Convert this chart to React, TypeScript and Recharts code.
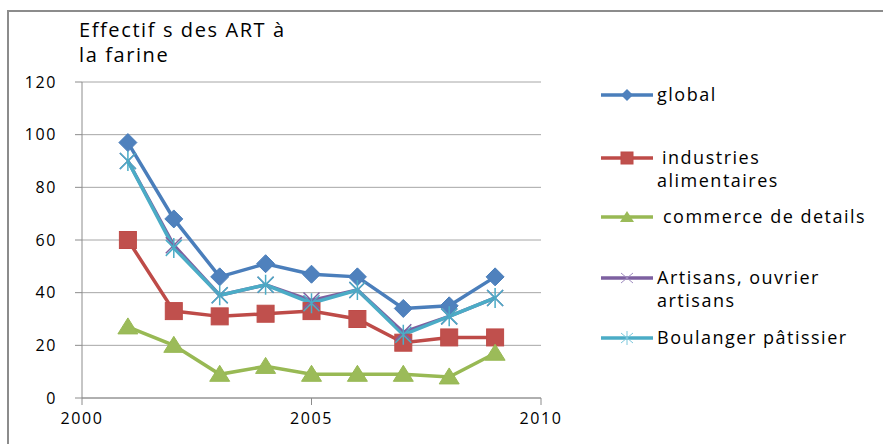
import { LineChart, Line, XAxis, YAxis, CartesianGrid, Legend } from "recharts";

const years = [2001, 2002, 2003, 2004, 2005, 2006, 2007, 2008, 2009];
const globalVals = [97, 68, 46, 51, 47, 46, 34, 35, 46];
const industriesVals = [60, 33, 31, 32, 33, 30, 21, 23, 23];
const commerceVals = [27, 20, 9, 12, 9, 9, 9, 8, 17];
const artisansVals = [90, 58, 39, 43, 37, 41, 25, 31, 38];
const boulangerVals = [90, 57, 39, 43, 36, 41, 24, 31, 38];
const xTicks = [2000, 2005, 2010];
const yTicks = [0, 20, 40, 60, 80, 100, 120];

const data = years.map((y, i) => ({
  year: y,
  global: globalVals[i],
  industries: industriesVals[i],
  commerce: commerceVals[i],
  artisans: artisansVals[i],
  boulanger: boulangerVals[i],
}));

const FONT = "'Open Sans', sans-serif";

const COLORS = {
  global: "#4a7ebb",
  industries: "#be4b48",
  commerce: "#98b954",
  artisans: "#7d60a0",
  boulanger: "#4bacc6",
};

const PLOT_LEFT = 82;
const PLOT_BOTTOM = 398;

// axis ticks drawn by hand so the label gap matches Excel
function YTick(p: any) {
  const { y, payload } = p;
  return (
    <g>
      <line x1={PLOT_LEFT - 7} y1={y} x2={PLOT_LEFT} y2={y} stroke="#8c8c8c" />
      <text x={PLOT_LEFT - 25} y={y} dy="0.35em" textAnchor="end" fontSize={16} letterSpacing={1.6} fill="#000" fontFamily={FONT}>
        {payload.value}
      </text>
    </g>
  );
}

function XTick(p: any) {
  const { x, payload } = p;
  return (
    <g>
      <line x1={x} y1={PLOT_BOTTOM} x2={x} y2={PLOT_BOTTOM + 7} stroke="#8c8c8c" />
      <text x={x} y={PLOT_BOTTOM + 20} dy="0.35em" textAnchor="middle" fontSize={16} letterSpacing={1.6} fill="#000" fontFamily={FONT}>
        {payload.value}
      </text>
    </g>
  );
}

// marker shapes, Excel style
function Diamond(p: any) {
  const { cx, cy } = p;
  if (cx == null) return null;
  const r = 9;
  return <path key={p.key} d={`M${cx},${cy - r}L${cx + r},${cy}L${cx},${cy + r}L${cx - r},${cy}Z`} fill="#4f81bd" stroke="#4a7ebb" strokeWidth={1} />;
}

function Square(p: any) {
  const { cx, cy } = p;
  if (cx == null) return null;
  const s = 8.5;
  return <rect key={p.key} x={cx - s} y={cy - s} width={s * 2} height={s * 2} fill="#c0504d" stroke="#be4b48" strokeWidth={1} />;
}

function Triangle(p: any) {
  const { cx, cy } = p;
  if (cx == null) return null;
  return <path key={p.key} d={`M${cx},${cy - 9}L${cx + 10},${cy + 7}L${cx - 10},${cy + 7}Z`} fill="#9bbb59" stroke="#98b954" strokeWidth={1} />;
}

function Cross(p: any) {
  const { cx, cy } = p;
  if (cx == null) return null;
  const r = 8;
  return (
    <path key={p.key} d={`M${cx - r},${cy - r}L${cx + r},${cy + r}M${cx - r},${cy + r}L${cx + r},${cy - r}`} stroke={COLORS.artisans} strokeWidth={1.5} fill="none" />
  );
}

function Star(p: any) {
  const { cx, cy } = p;
  if (cx == null) return null;
  const r = 8;
  return (
    <path
      key={p.key}
      d={`M${cx - r},${cy - r}L${cx + r},${cy + r}M${cx - r},${cy + r}L${cx + r},${cy - r}M${cx},${cy - r - 2}L${cx},${cy + r + 2}`}
      stroke={COLORS.boulanger}
      strokeWidth={1.5}
      fill="none"
    />
  );
}

const legendItems = [
  { lines: ["global"], color: COLORS.global, y: 95, indent: 0, marker: "diamond" },
  { lines: ["industries", "alimentaires"], color: COLORS.industries, y: 158, indent: 5, marker: "square" },
  { lines: ["commerce de details"], color: COLORS.commerce, y: 217, indent: 6, marker: "triangle" },
  { lines: ["Artisans, ouvrier", "artisans"], color: COLORS.artisans, y: 278, indent: 0, marker: "cross" },
  { lines: ["Boulanger pâtissier"], color: COLORS.boulanger, y: 338, indent: 0, marker: "star" },
];

function LegendMarker({ kind, color }: { kind: string; color: string }) {
  const cx = 26;
  const cy = 12;
  let m = null;
  if (kind === "diamond") m = <path d={`M${cx},${cy - 6}L${cx + 6},${cy}L${cx},${cy + 6}L${cx - 6},${cy}Z`} fill="#4f81bd" />;
  if (kind === "square") m = <rect x={cx - 6} y={cy - 6} width={12} height={12} fill="#c0504d" stroke="#be4b48" />;
  if (kind === "triangle") m = <path d={`M${cx},${cy - 6}L${cx + 7},${cy + 5}L${cx - 7},${cy + 5}Z`} fill="#9bbb59" />;
  if (kind === "cross") m = <path d={`M${cx - 6},${cy - 5}L${cx + 6},${cy + 5}M${cx - 6},${cy + 5}L${cx + 6},${cy - 5}`} stroke="#a08cc0" strokeWidth={1} />;
  if (kind === "star")
    m = <path d={`M${cx - 6},${cy - 5}L${cx + 6},${cy + 5}M${cx - 6},${cy + 5}L${cx + 6},${cy - 5}M${cx},${cy - 7}L${cx},${cy + 7}`} stroke="#7cc8dc" strokeWidth={1} />;
  return (
    <svg width={52} height={24} style={{ position: "absolute", left: 0, top: -12 }}>
      <line x1={0} y1={cy} x2={52} y2={cy} stroke={color} strokeWidth={3.5} />
      {m}
    </svg>
  );
}

function CustomLegend() {
  return (
    <div style={{ position: "relative", width: 282, height: 300, fontFamily: FONT }}>
      {legendItems.map((it) => (
        <div key={it.lines[0]} style={{ position: "absolute", left: 0, top: it.y - 80 }}>
          <LegendMarker kind={it.marker} color={it.color} />
          {it.lines.map((t, i) => (
            <div
              key={t}
              style={{
                position: "absolute",
                left: 56 + (i === 0 ? it.indent : 0),
                top: -13 + i * 23,
                fontSize: 18,
                lineHeight: "24px",
                letterSpacing: 1.5,
                whiteSpace: "nowrap",
                color: "#000",
              }}
            >
              {t}
            </div>
          ))}
        </div>
      ))}
    </div>
  );
}

export default function App() {
  return (
    <div style={{ position: "fixed", left: 0, top: 0, width: 883, height: 444, background: "#fff", fontFamily: FONT }}>
      <div style={{ position: "absolute", left: 7, top: 10, width: 876, height: 434, borderLeft: "2px solid #8c8c8c", borderTop: "2px solid #8c8c8c" }} />
      <div style={{ position: "absolute", left: 79, top: 17, fontSize: 20, lineHeight: "25px", letterSpacing: 1.6, color: "#000" }}>
        <div>Effectif s des ART à</div>
        <div>la farine</div>
      </div>
      <LineChart width={883} height={444} data={data} margin={{ top: 82, right: 342, bottom: 16, left: 0 }} style={{ position: "absolute", left: 0, top: 0 }}>
        <CartesianGrid vertical={false} stroke="#a6a6a6" strokeWidth={1} />
        <XAxis dataKey="year" type="number" domain={[2000, 2010]} ticks={xTicks} height={30} stroke="#8c8c8c" tickLine={false} tick={<XTick />} />
        <YAxis domain={[0, 120]} ticks={yTicks} width={82} stroke="#8c8c8c" tickLine={false} tick={<YTick />} />
        <Legend layout="vertical" align="center" verticalAlign="middle" content={<CustomLegend />} wrapperStyle={{ left: 601, top: 80, width: 282, height: 300 }} />
        <Line dataKey="global" stroke={COLORS.global} strokeWidth={3.5} dot={<Diamond />} isAnimationActive={false} />
        <Line dataKey="industries" stroke={COLORS.industries} strokeWidth={3.5} dot={<Square />} isAnimationActive={false} />
        <Line dataKey="commerce" stroke={COLORS.commerce} strokeWidth={3.5} dot={<Triangle />} isAnimationActive={false} />
        <Line dataKey="artisans" stroke={COLORS.artisans} strokeWidth={3.5} dot={<Cross />} isAnimationActive={false} />
        <Line dataKey="boulanger" stroke={COLORS.boulanger} strokeWidth={3.5} dot={<Star />} isAnimationActive={false} />
      </LineChart>
    </div>
  );
}
